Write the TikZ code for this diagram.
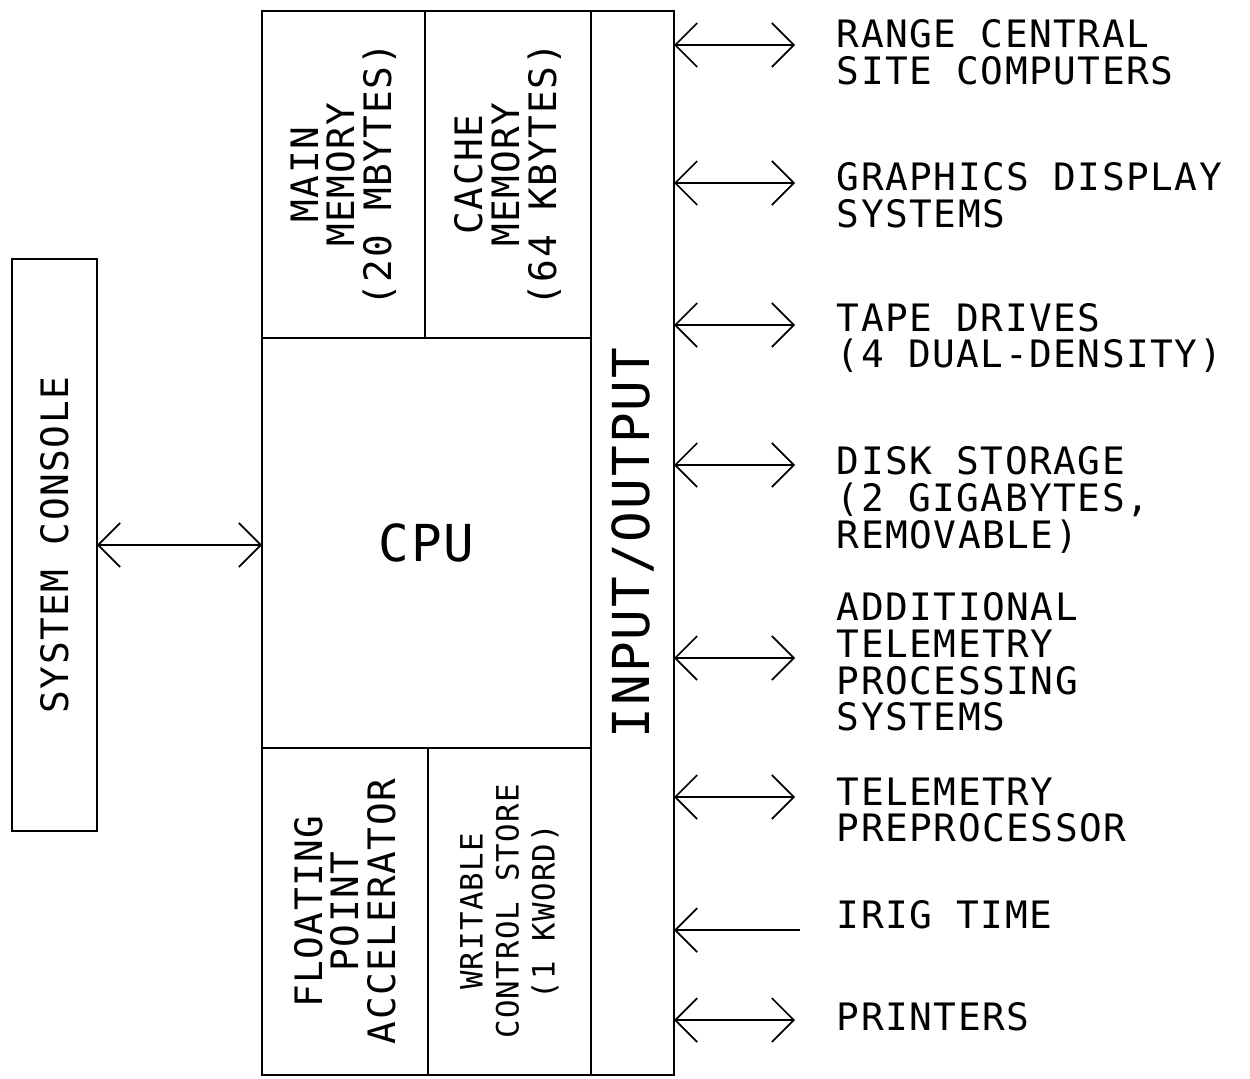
\documentclass[tikz,border=0pt]{standalone}
\usepackage{fontspec}
\newfontfamily\plotfont[LetterSpace=4]{DejaVu Sans Mono}
\usetikzlibrary{arrows.meta}

\begin{document}
\begin{tikzpicture}[x=0.02cm, y=-0.02cm, line width=1pt]
    \tikzstyle{unit} = [rectangle, draw=black, inner sep=0pt, outer sep=0pt, align=center, font=\plotfont\fontsize{21.5}{20.8}\selectfont]
    \tikzstyle{sideunit} = [unit, rotate=90]
    \tikzstyle{device} = [anchor=west, align=left, inner sep=0pt, font=\plotfont\fontsize{21.5}{20.8}\selectfont]
    \tikzstyle{arrow} = [<->, >={Straight Barb[length=0.44cm, width=0.88cm]}]
    \tikzstyle{inarrow} = [<-, >={Straight Barb[length=0.44cm, width=0.88cm]}]

    \useasboundingbox (0,0) rectangle (1250,1078);

    \node (mainmem) [sideunit, minimum width=6.54cm, minimum height=3.26cm] at (343.5,174.5) {MAIN\\MEMORY\\(20 MBYTES)};
    \node (cache) [sideunit, minimum width=6.54cm, minimum height=3.32cm] at (508,174.5) {CACHE\\MEMORY\\(64 KBYTES)};
    \node (cpu) [unit, minimum width=6.58cm, minimum height=8.2cm, font=\plotfont\fontsize{29}{36}\selectfont] at (426.5,543) {CPU};
    \node (fpa) [sideunit, minimum width=6.54cm, minimum height=3.32cm] at (345,911.5) {FLOATING\\POINT\\ACCELERATOR};
    \node (wcs) [sideunit, minimum width=6.54cm, minimum height=3.26cm, font=\plotfont\fontsize{17.5}{20.5}\selectfont] at (509.5,911.5) {WRITABLE\\CONTROL STORE\\(1 KWORD)};
    \node (io) [sideunit, minimum width=21.28cm, minimum height=1.66cm, font=\plotfont\fontsize{29}{36}\selectfont] at (632.5,543) {INPUT/OUTPUT};
    \node (console) [sideunit, minimum width=11.44cm, minimum height=1.7cm] at (54.5,545) {SYSTEM CONSOLE};

    \coordinate (rc) at (795,45);
    \coordinate (gd) at (795,183);
    \coordinate (td) at (795,325);
    \coordinate (ds) at (795,465);
    \coordinate (atp) at (795,658);
    \coordinate (tp) at (795,797);
    \coordinate (irig) at (800,930);
    \coordinate (pr) at (795,1020);

    \node (rclabel) [device] at (836,52) {RANGE CENTRAL\\SITE COMPUTERS};
    \node (gdlabel) [device] at (836,195) {GRAPHICS DISPLAY\\SYSTEMS};
    \node (tdlabel) [device] at (836,338) {TAPE DRIVES\\(4 DUAL-DENSITY)};
    \node (dslabel) [device] at (836,500) {DISK STORAGE\\(2 GIGABYTES,\\REMOVABLE)};
    \node (atplabel) [device] at (836,662) {ADDITIONAL\\TELEMETRY\\PROCESSING\\SYSTEMS};
    \node (tplabel) [device] at (836,810) {TELEMETRY\\PREPROCESSOR};
    \node (iriglabel) [device] at (836,915) {IRIG TIME};
    \node (prlabel) [device] at (836,1017) {PRINTERS};

    \draw [arrow] (console.south) -- (console.south -| cpu.west);
    \draw [arrow] (io.south |- rc) -- (rc);
    \draw [arrow] (io.south |- gd) -- (gd);
    \draw [arrow] (io.south |- td) -- (td);
    \draw [arrow] (io.south |- ds) -- (ds);
    \draw [arrow] (io.south |- atp) -- (atp);
    \draw [arrow] (io.south |- tp) -- (tp);
    \draw [inarrow] (io.south |- irig) -- (irig);
    \draw [arrow] (io.south |- pr) -- (pr);
\end{tikzpicture}
\end{document}
